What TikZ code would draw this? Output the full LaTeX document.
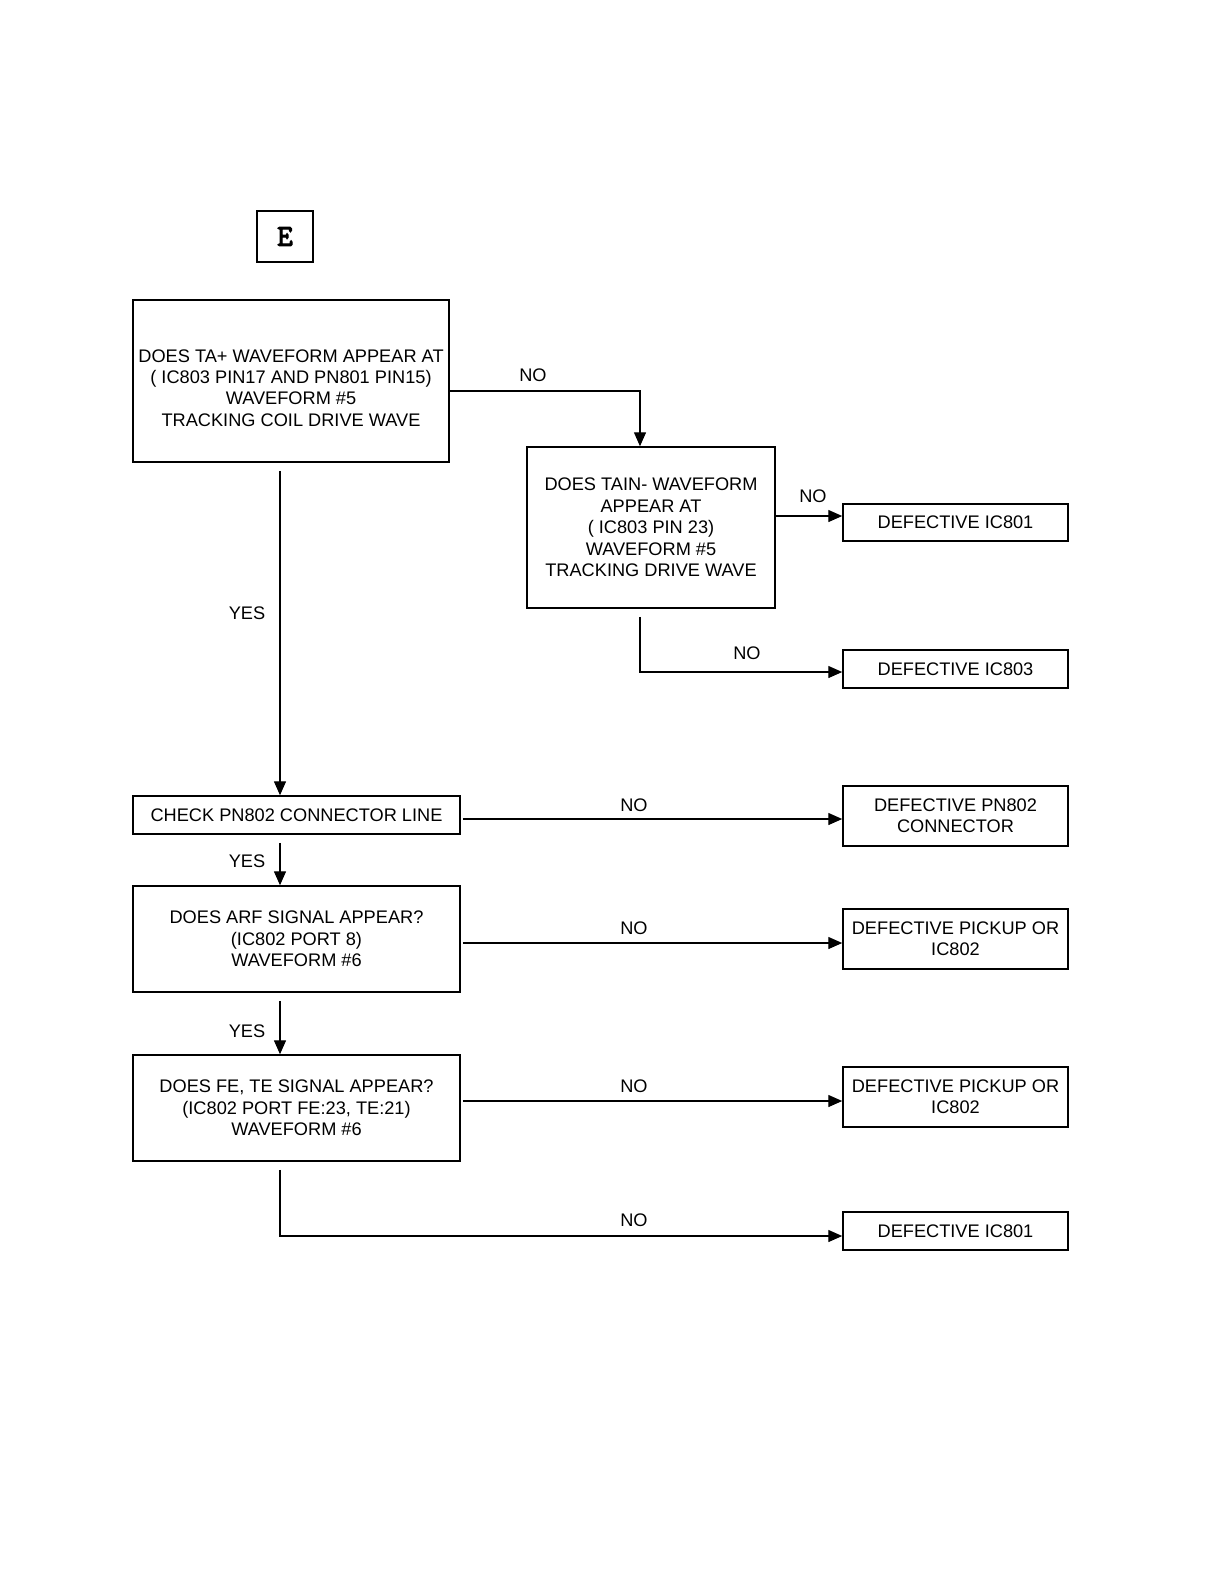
\documentclass[tikz,border=0pt]{standalone}
\usepackage{fontspec}
\setmainfont{Liberation Sans}
\newfontfamily\emono{Latin Modern Mono}[FakeBold=4]
\usetikzlibrary{arrows.meta}
\tikzset{
  box/.style={draw, line width=0.75pt, inner sep=0pt, align=center,
    font=\fontsize{9.1}{10.7}\selectfont},
  lbl/.style={inner sep=0pt, font=\fontsize{9.1}{10.7}\selectfont},
  arr/.style={line width=0.7pt, -{Triangle[length=7pt,width=6pt]}},
  gap/.style={shorten <=4pt}
}

\begin{document}
\begin{tikzpicture}[x=0.5pt,y=-0.5pt]
  \useasboundingbox (0,0) rectangle (1219,1587);
  % boxes, left column
  \node [box, minimum width=28pt, minimum height=25.5pt, font=\fontsize{15}{15}\selectfont\emono] (e) at (285,236.5) {E};
  \node [box, minimum width=158pt, minimum height=81pt,
    label={[lbl, align=center, yshift=-3.5pt]center:DOES TA+ WAVEFORM APPEAR AT\\( IC803 PIN17 AND PN801 PIN15)\\WAVEFORM \#5\\TRACKING COIL DRIVE WAVE}] (ta) at (291,381) {};
  \node [box, minimum width=124pt, minimum height=80.5pt] (tain) at (651,527.5)
    {DOES TAIN- WAVEFORM\\APPEAR AT\\( IC803 PIN 23)\\WAVEFORM \#5\\TRACKING DRIVE WAVE};
  \node [box, minimum width=163.5pt, minimum height=19pt] (chk) at (296.5,815) {CHECK PN802 CONNECTOR LINE};
  \node [box, minimum width=163.5pt, minimum height=53pt] (arf) at (296.5,939)
    {DOES ARF SIGNAL APPEAR?\\(IC802 PORT 8)\\WAVEFORM \#6};
  \node [box, minimum width=163.5pt, minimum height=53pt] (fete) at (296.5,1108)
    {DOES FE, TE SIGNAL APPEAR?\\(IC802 PORT FE:23, TE:21)\\WAVEFORM \#6};
  % boxes, right column
  \node [box, minimum width=112.5pt, minimum height=18.5pt] (icA) at (955.5,522.5) {DEFECTIVE IC801};
  \node [box, minimum width=112.5pt, minimum height=19pt] (icB) at (955.5,669) {DEFECTIVE IC803};
  \node [box, minimum width=112.5pt, minimum height=30pt] (pn) at (955.5,816) {DEFECTIVE PN802\\CONNECTOR};
  \node [box, minimum width=112.5pt, minimum height=30pt] (pkA) at (955.5,939) {DEFECTIVE PICKUP OR\\IC802};
  \node [box, minimum width=112.5pt, minimum height=30pt] (pkB) at (955.5,1097) {DEFECTIVE PICKUP OR\\IC802};
  \node [box, minimum width=112.5pt, minimum height=19pt] (icC) at (955.5,1231) {DEFECTIVE IC801};

  % connectors
  \draw [arr] ([yshift=-5pt]ta.east) -| ([xshift=-5.5pt]tain.north);
  \draw [arr] ([yshift=5.75pt]tain.east) -- ([yshift=5.75pt]tain.east -| icA.west);
  \draw [arr, gap] ([xshift=-5.5pt]tain.south) |- ([yshift=-1.5pt]icB.west);
  \draw [arr, gap] ([xshift=-5.5pt]ta.south) -- ([xshift=-5.5pt]ta.south |- chk.north);
  \draw [arr, shorten <=1pt] ([yshift=-2pt]chk.east) -- ([yshift=-2pt]chk.east -| pn.west);
  \draw [arr, gap] ([xshift=-8.25pt]chk.south) -- ([xshift=-8.25pt]chk.south |- arf.north);
  \draw [arr, shorten <=1pt] ([yshift=-2pt]arf.east) -- ([yshift=-2pt]arf.east -| pkA.west);
  \draw [arr, gap] ([xshift=-8.25pt]arf.south) -- ([xshift=-8.25pt]arf.south |- fete.north);
  \draw [arr, shorten <=1pt] ([yshift=3.5pt]fete.east) -- ([yshift=3.5pt]fete.east -| pkB.west);
  \draw [arr, gap] ([xshift=-8.25pt]fete.south) |- ([yshift=-2.5pt]icC.west);

  % labels
  \node [lbl] (no1) at (533,375) {NO};
  \node [lbl] (no2) at (813,496) {NO};
  \node [lbl] (no3) at (747,653) {NO};
  \node [lbl] (yes1) at (247,613) {YES};
  \node [lbl] (no4) at (634,805) {NO};
  \node [lbl] (yes2) at (247,861) {YES};
  \node [lbl] (no5) at (634,928) {NO};
  \node [lbl] (yes3) at (247,1031) {YES};
  \node [lbl] (no6) at (634,1086) {NO};
  \node [lbl] (no7) at (634,1220) {NO};
\end{tikzpicture}
\end{document}
